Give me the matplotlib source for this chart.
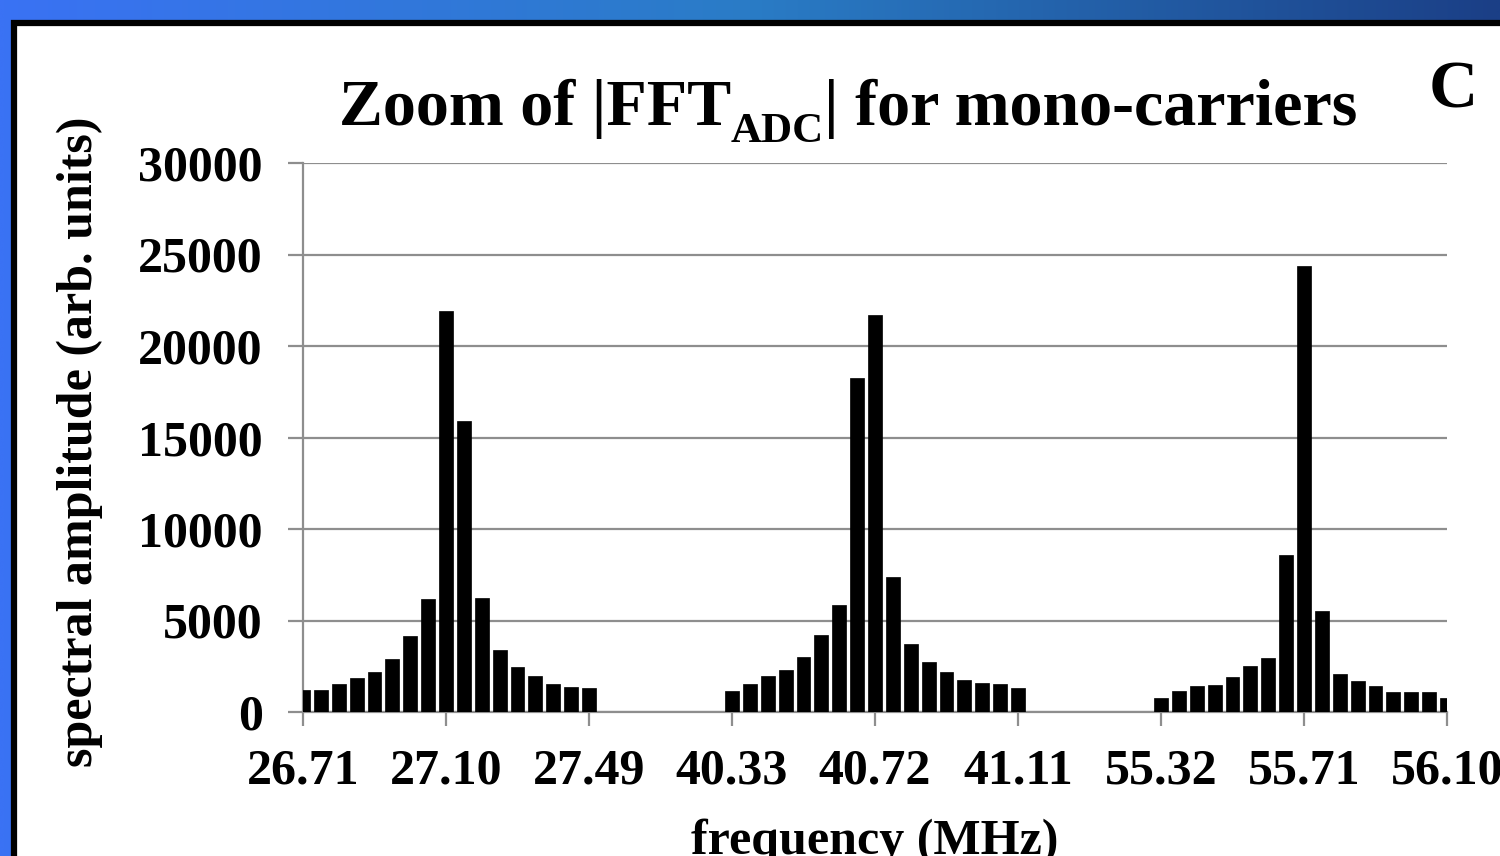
import numpy as np
import matplotlib
matplotlib.use("Agg")
import matplotlib.pyplot as plt
from matplotlib.patches import Rectangle
from matplotlib.colors import LinearSegmentedColormap

# |FFT| amplitude of the ADC output around each of the three mono-carriers
carrier_27mhz = [1190, 1220, 1510, 1860, 2190, 2870, 4180, 6200, 21920,
                 15910, 6240, 3410, 2460, 1970, 1550, 1370, 1300]
carrier_40mhz = [1170, 1550, 1950, 2280, 2990, 4220, 5840, 18230, 21700,
                 7370, 3710, 2740, 2210, 1750, 1610, 1550, 1310]
carrier_55mhz = [780, 1170, 1400, 1460, 1910, 2530, 2940, 8590, 24360,
                 5520, 2080, 1680, 1440, 1080, 1090, 1080, 750]

tick_labels = ["26.71", "27.10", "27.49", "40.33", "40.72", "41.11",
               "55.32", "55.71", "56.10"]
bins_per_label = 8
carrier_first_label = [0, 3, 6]
carriers = [carrier_27mhz, carrier_40mhz, carrier_55mhz]

plt.rcParams["font.family"] = ["Liberation Serif", "DejaVu Serif"]
plt.rcParams["font.weight"] = "bold"

W, H = 1500, 856
fig = plt.figure(figsize=(W / 100, H / 100), dpi=100)

# slide-style blue gradient behind the white panel
bg = fig.add_axes([0, 0, 1, 1], zorder=-10)
bg.set_axis_off()
cmap = LinearSegmentedColormap.from_list(
    "slide", [(0.0, "#3a72f4"), (0.5, "#2a7cc6"), (1.0, "#1b3f86")])
grad = np.tile(np.linspace(0, 1, 512), (64, 1))
bg.imshow(grad, aspect="auto", cmap=cmap, extent=[0, 1, 0, 1])
bg.set_xlim(0, 1)
bg.set_ylim(0, 1)

panel = Rectangle((14 / W, -0.2), 1.2, (H - 23) / H + 0.2,
                  transform=fig.transFigure, facecolor="white",
                  edgecolor="black", linewidth=4.5, zorder=-5)
fig.patches.append(panel)

ax = fig.add_axes([303 / W, 144 / H, 1144 / W, 549 / H])
ax.set_facecolor("none")
grid_col = "#8e8e8e"

for first, vals in zip(carrier_first_label, carriers):
    x = bins_per_label * first + np.arange(len(vals))
    ax.bar(x, vals, width=0.78, color="black", edgecolor="black",
           linewidth=0.5, zorder=3)

ax.set_xlim(0, bins_per_label * (len(tick_labels) - 1))
ax.set_ylim(0, 30000)
ax.set_xticks(np.arange(len(tick_labels)) * bins_per_label)
ax.set_xticklabels(tick_labels)
ax.set_yticks(np.arange(0, 30001, 5000))
ax.yaxis.grid(True, color=grid_col, linewidth=1.6, zorder=0)
ax.set_axisbelow(True)
for side in ("top", "right"):
    ax.spines[side].set_visible(False)
for side in ("left", "bottom"):
    ax.spines[side].set_color(grid_col)
    ax.spines[side].set_linewidth(1.6)
ax.tick_params(axis="both", colors=grid_col, width=1.6, labelcolor="black",
               labelsize=36)
ax.tick_params(axis="x", length=10, pad=16)
ax.tick_params(axis="y", length=11, pad=18)
for lab in ax.get_xticklabels() + ax.get_yticklabels():
    lab.set_fontweight("bold")

# title assembled from pieces so the subscript sits low, as in the slide
renderer = fig.canvas.get_renderer()
title_parts = [("Zoom of |FFT", 47.5, 0), ("ADC", 31, -17),
               ("| for mono-carriers", 47.5, 0)]
title_base = H - 125
title_texts = []
total = 0.0
for s, size, dy in title_parts:
    t = fig.text(0, (title_base + dy) / H, s, ha="left", va="baseline",
                 fontsize=size, fontweight="bold")
    w = t.get_window_extent(renderer).width
    title_texts.append((t, w))
    total += w
x0 = 848 - total / 2
for t, w in title_texts:
    t.set_x(x0 / W)
    x0 += w

fig.text(1453 / W, (H - 108) / H, "C", ha="center", va="baseline",
         fontsize=49, fontweight="bold")
fig.text(80 / W, (H - 442) / H, "spectral amplitude (arb. units)",
         rotation=90, ha="center", va="center", fontsize=36,
         fontweight="bold")
fig.text(875 / W, 2 / H, "frequency (MHz)", ha="center", va="baseline",
         fontsize=36, fontweight="bold")

fig.savefig("out.png", dpi=100)
